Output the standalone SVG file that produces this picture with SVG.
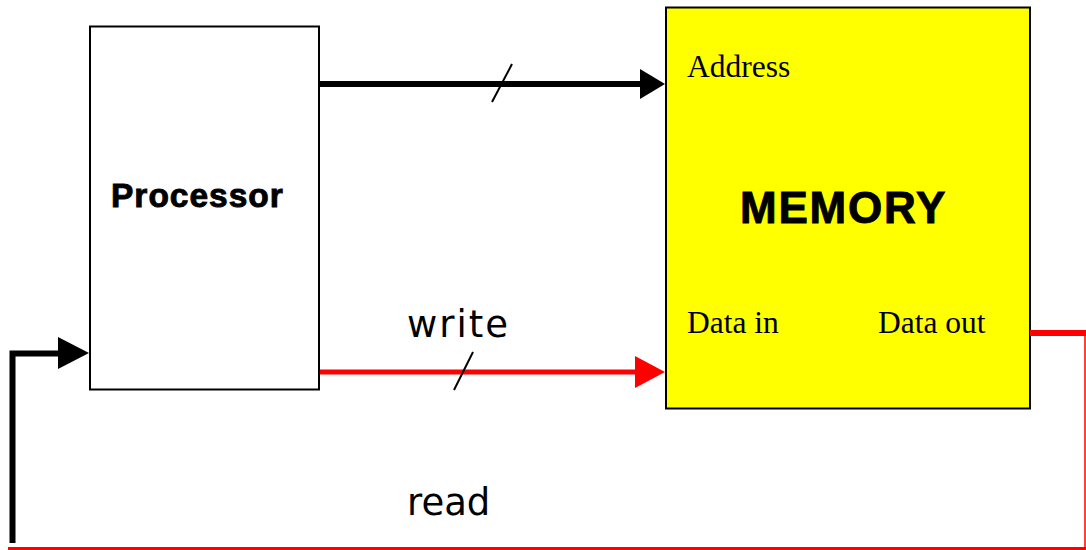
<svg xmlns="http://www.w3.org/2000/svg" width="1086" height="550" viewBox="0 0 1086 550">
  <style>
    .box { stroke: #000; stroke-width: 2; }
    .serif { font-family: "Liberation Serif", "Times New Roman", serif; font-size: 31.5px; fill: #000; }
    .bold { font-family: "Liberation Sans", Arial, sans-serif; font-weight: bold; fill: #000; stroke: #000; stroke-width: 0.9; }
    .hand { font-family: "Comic Sans MS", "DejaVu Sans", sans-serif; font-size: 37px; fill: #000; }
    .bus { fill: none; stroke: #000; stroke-width: 6; }
    .red { fill: none; stroke: #ff0000; }
    .tick { stroke: #000; stroke-width: 2; }
  </style>
  <rect width="1086" height="550" fill="#fff"/>

  <g id="processor">
    <rect class="box" x="90" y="26.5" width="229" height="363" fill="#fff"/>
    <text class="bold" x="111" y="207" font-size="33.5" letter-spacing="1">Processor</text>
  </g>

  <g id="memory">
    <rect class="box" x="666" y="7.5" width="364" height="401" fill="#ffff00"/>
    <text class="serif" x="687" y="77">Address</text>
    <text class="bold" x="740" y="223" font-size="44" letter-spacing="1.8">MEMORY</text>
    <text class="serif" x="687" y="333">Data in</text>
    <text class="serif" x="878" y="333">Data out</text>
  </g>

  <g id="connectors">
    <!-- address bus: processor to memory -->
    <line class="bus" x1="320" y1="84" x2="641" y2="84"/>
    <polygon points="640,69 665,84 640,99" fill="#000"/>
    <line class="tick" x1="512" y1="64" x2="492" y2="102"/>

    <!-- write: processor data to memory data in -->
    <line class="red" stroke-width="5" x1="320" y1="372" x2="636" y2="372"/>
    <polygon points="635,356 665,372 635,388" fill="#ff0000"/>
    <line class="tick" x1="473" y1="352" x2="454" y2="390"/>
    <text class="hand" x="407" y="337" letter-spacing="2">write</text>

    <!-- read: memory data out back to processor -->
    <line class="red" stroke-width="6" x1="1030" y1="333" x2="1086" y2="333"/>
    <line class="red" stroke-width="1.5" x1="1085" y1="333" x2="1085" y2="547"/>
    <line class="red" stroke-width="3" x1="8" y1="548.5" x2="1086" y2="548.5"/>
    <text class="hand" x="407" y="515">read</text>

    <path class="bus" stroke-width="5" d="M12.5,543 V353.5 H59"/>
    <polygon points="58,337 89,353 58,369" fill="#000"/>
  </g>
</svg>
